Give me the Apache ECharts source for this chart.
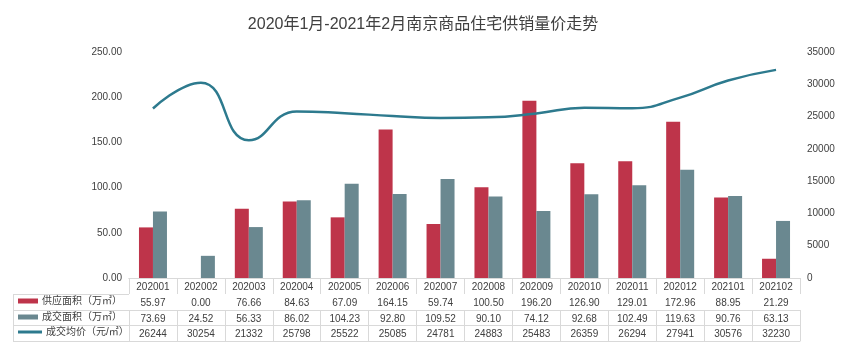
<!DOCTYPE html>
<html><head><meta charset="utf-8">
<script src="https://cdn.jsdelivr.net/npm/echarts@6/dist/echarts.min.js"></script>
<style>html,body{margin:0;padding:0;background:#fff}#c{width:846px;height:354px}</style>
</head><body><div id="c"></div>
<script>
const categories = ['202001','202002','202003','202004','202005','202006','202007','202008','202009','202010','202011','202012','202101','202102'];
const supplyArea = [55.97,0.00,76.66,84.63,67.09,164.15,59.74,100.50,196.20,126.90,129.01,172.96,88.95,21.29];
const dealArea = [73.69,24.52,56.33,86.02,104.23,92.80,109.52,90.10,74.12,92.68,102.49,119.63,90.76,63.13];
const dealPrice = [26244,30254,21332,25798,25522,25085,24781,24883,25483,26359,26294,27941,30576,32230];
const names = ['供应面积（万㎡）','成交面积（万㎡）','成交均价（元/㎡）'];
const colors = ['#BE344A','#6A8890','#2D7A8E'];

const FONT = "'Liberation Sans','Noto Sans CJK SC',sans-serif";
const TXT = '#404040';
const BORDER = '#d9d9d9';
const gridL = 129, gridR = 46, gridT = 52, gridB = 76; // 354-278
const rowTops = [278, 294, 310, 325, 341];

function rowAxis(i, fmt) {
  return {
    type: 'category', gridIndex: 0, position: 'bottom', data: categories,
    offset: rowTops[i] - 278,
    axisLine: {show: true, lineStyle: {color: BORDER, width: 1}},
    axisTick: fmt ? {show: true, interval: 0, alignWithLabel: false, length: rowTops[i+1]-rowTops[i], lineStyle: {color: BORDER}} : {show: false},
    axisLabel: fmt ? {show: true, interval: 0, margin: 4, color: TXT, fontSize: 10, fontFamily: FONT, formatter: fmt} : {show: false},
    splitLine: {show: false}
  };
}

const chart = echarts.init(document.getElementById('c'), null, {renderer: 'canvas'});
const legendRow = (idx, top, h, w) => ({
  show: true, left: 18, top: top, orient: 'vertical', data: [names[idx]],
  icon: 'rect', itemWidth: w, itemHeight: h, itemGap: 0, padding: 0,
  textStyle: {color: TXT, fontSize: 10, fontFamily: FONT, padding: [0,0,0,-1]},
  selectedMode: false
});
chart.setOption({
  animation: false,
  backgroundColor: '#fff',
  title: {text: '2020年1月-2021年2月南京商品住宅供销量价走势', left: 'center', top: 12,
    textStyle: {color: TXT, fontSize: 16, fontWeight: 'normal', fontFamily: FONT}},
  legend: [legendRow(0, 296, 5, 20), legendRow(1, 312, 5, 20), legendRow(2, 327, 3, 24)],
  grid: {left: gridL, right: gridR, top: gridT, bottom: gridB, containLabel: false},
  xAxis: [
    rowAxis(0, (v, i) => categories[i]),
    rowAxis(1, (v, i) => supplyArea[i].toFixed(2)),
    rowAxis(2, (v, i) => dealArea[i].toFixed(2)),
    rowAxis(3, (v, i) => String(dealPrice[i])),
    rowAxis(4, null)
  ],
  yAxis: [
    {type: 'value', min: 0, max: 250, interval: 50, axisLine: {show: false}, axisTick: {show: false}, splitLine: {show: false},
     axisLabel: {color: TXT, fontSize: 10, fontFamily: FONT, margin: 7, formatter: v => v.toFixed(2)}},
    {type: 'value', min: 0, max: 35000, interval: 5000, position: 'right', axisLine: {show: false}, axisTick: {show: false}, splitLine: {show: false},
     axisLabel: {color: TXT, fontSize: 10, fontFamily: FONT, margin: 7, formatter: v => String(v)}}
  ],
  graphic: [
    {type: 'line', shape: {x1: 13, y1: 294.5, x2: gridL, y2: 294.5}, style: {stroke: BORDER, lineWidth: 1}},
    {type: 'line', shape: {x1: 13, y1: 310.5, x2: gridL, y2: 310.5}, style: {stroke: BORDER, lineWidth: 1}},
    {type: 'line', shape: {x1: 13, y1: 325.5, x2: gridL, y2: 325.5}, style: {stroke: BORDER, lineWidth: 1}},
    {type: 'line', shape: {x1: 13, y1: 341.5, x2: gridL, y2: 341.5}, style: {stroke: BORDER, lineWidth: 1}},
    {type: 'line', shape: {x1: 13.5, y1: 294, x2: 13.5, y2: 342}, style: {stroke: BORDER, lineWidth: 1}}
  ],
  series: [
    {name: names[0], type: 'bar', xAxisIndex: 0, yAxisIndex: 0, data: supplyArea, barWidth: 14, barGap: '0%', itemStyle: {color: colors[0]}},
    {name: names[1], type: 'bar', xAxisIndex: 0, yAxisIndex: 0, data: dealArea, barWidth: 14, barGap: '0%', itemStyle: {color: colors[1]}},
    {name: names[2], type: 'line', xAxisIndex: 0, yAxisIndex: 1, data: dealPrice, smooth: 0.5, showSymbol: false, symbol: 'none',
     lineStyle: {color: colors[2], width: 2.5}, itemStyle: {color: colors[2]}}
  ]
});
</script></body></html>
